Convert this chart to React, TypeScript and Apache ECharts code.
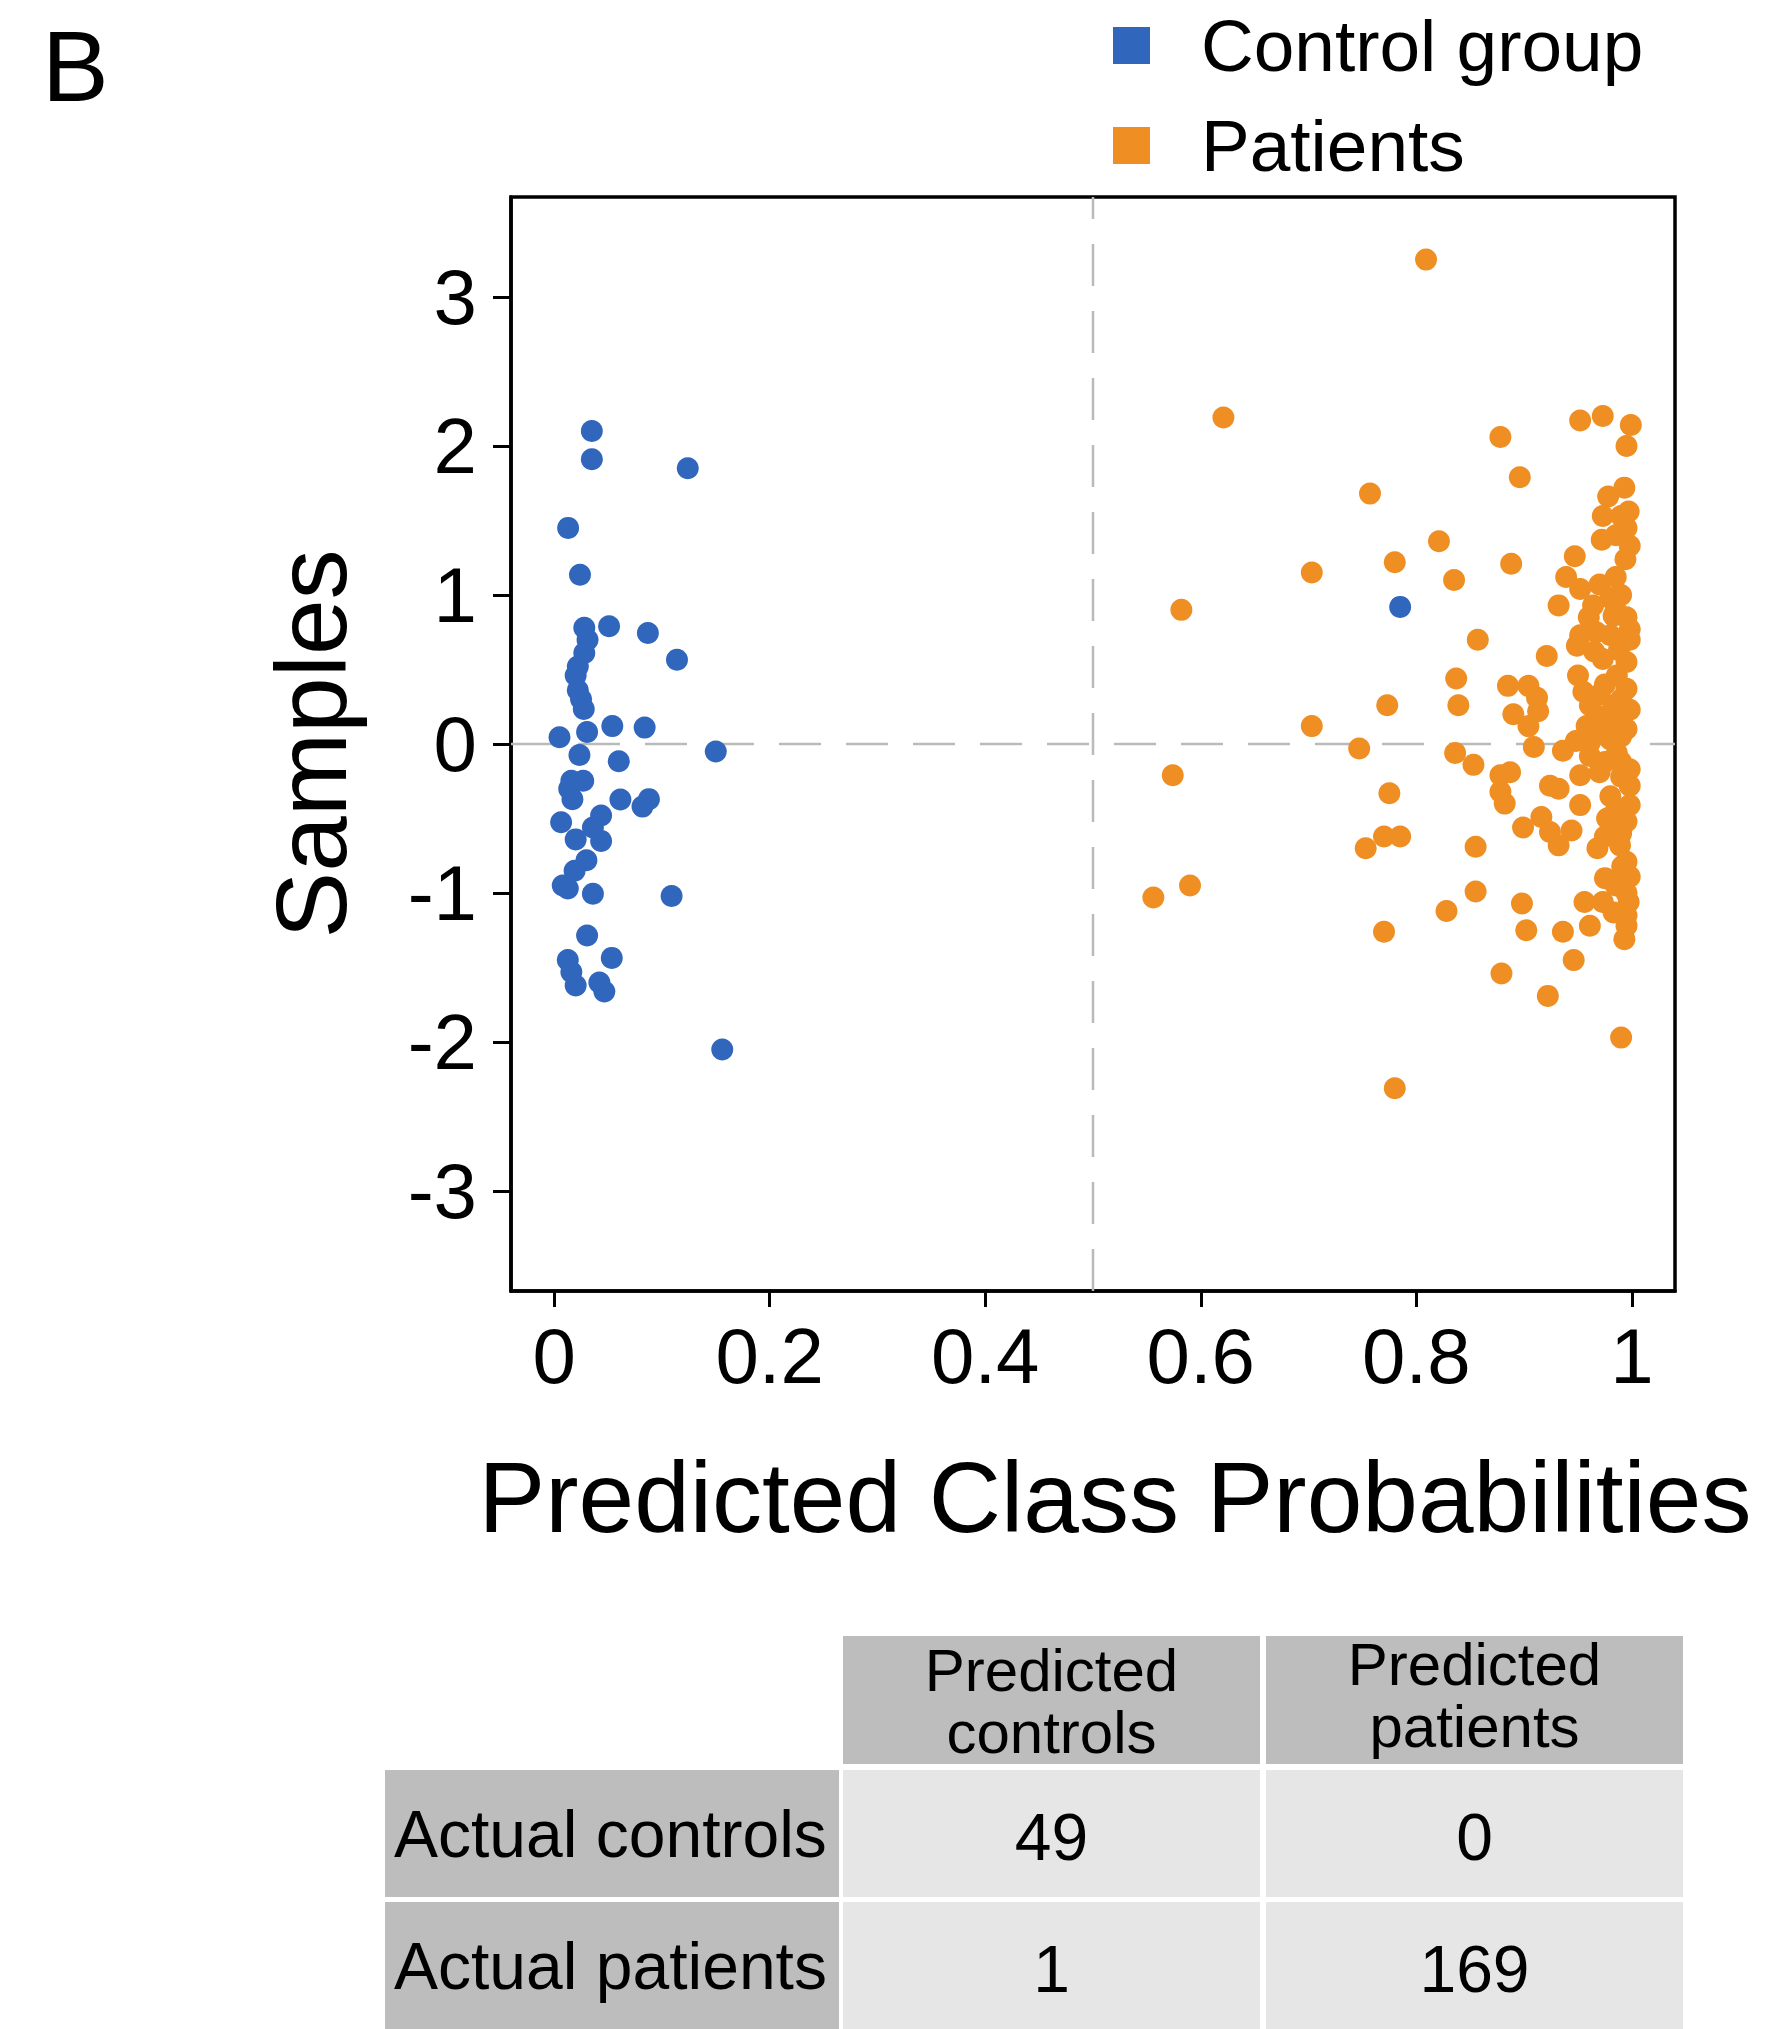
import { useEffect, useRef } from "react";
import * as echarts from "echarts";

const seriesNames = ["Control group", "Patients"];
const seriesColors = ["#3166bd", "#ef8e22"];

const controlPoints: [number, number][] = [
  [0.035, 2.1], [0.035, 1.91], [0.124, 1.85], [0.013, 1.45], [0.024, 1.135],
  [0.028, 0.78], [0.051, 0.79], [0.087, 0.745], [0.114, 0.565],
  [0.031, 0.7], [0.028, 0.61], [0.022, 0.52], [0.02, 0.46], [0.022, 0.36], [0.025, 0.3], [0.0275, 0.235],
  [0.005, 0.045], [0.0306, 0.08], [0.054, 0.12], [0.084, 0.11],
  [0.0235, -0.074], [0.06, -0.116], [0.15, -0.05],
  [0.016, -0.246], [0.027, -0.246], [0.014, -0.3],
  [0.017, -0.37], [0.0615, -0.373], [0.082, -0.42], [0.088, -0.37],
  [0.0065, -0.525], [0.0436, -0.48], [0.036, -0.56], [0.02, -0.64], [0.0436, -0.65],
  [0.03, -0.78], [0.019, -0.85], [0.008, -0.95], [0.0127, -0.97], [0.036, -1.005],
  [0.109, -1.02], [0.0306, -1.285], [0.0127, -1.45], [0.0535, -1.435], [0.016, -1.53],
  [0.02, -1.62], [0.042, -1.6], [0.0466, -1.66], [0.156, -2.05],
  [0.785, 0.92],
];

const patientPoints: [number, number][] = [
  [0.809, 3.25], [0.621, 2.19], [0.582, 0.9], [0.574, -0.21], [0.556, -1.03], [0.59, -0.95],
  [0.78, -2.31], [0.703, 1.15], [0.757, 1.68], [0.78, 1.22], [0.821, 1.36], [0.835, 1.1],
  [0.857, 0.7], [0.837, 0.44], [0.839, 0.26], [0.773, 0.26], [0.703, 0.12], [0.747, -0.03],
  [0.836, -0.06], [0.853, -0.14], [0.775, -0.33], [0.77, -0.62], [0.785, -0.62], [0.753, -0.7],
  [0.855, -0.69], [0.855, -0.99], [0.828, -1.12], [0.77, -1.26],
  [0.878, 2.06], [0.952, 2.17], [0.973, 2.2], [0.999, 2.14], [0.995, 2.0], [0.896, 1.79],
  [0.993, 1.72], [0.978, 1.66], [0.997, 1.56], [0.973, 1.53], [0.99, 1.53], [0.972, 1.37],
  [0.998, 1.33], [0.994, 1.24], [0.947, 1.26], [0.888, 1.21], [0.939, 1.12], [0.952, 1.04],
  [0.97, 1.07], [0.98, 0.98], [0.932, 0.93], [0.964, 0.93], [0.983, 0.86], [0.998, 0.77],
  [0.952, 0.73], [0.967, 0.75],
  [0.921, 0.59], [0.949, 0.66], [0.98, 0.73], [0.998, 0.7], [0.973, 0.57], [0.995, 0.55],
  [0.885, 0.39], [0.904, 0.39], [0.912, 0.31], [0.89, 0.2], [0.913, 0.22], [0.904, 0.12],
  [0.95, 0.46], [0.955, 0.35], [0.986, 0.46], [0.995, 0.37], [0.961, 0.26], [0.983, 0.26],
  [0.998, 0.23], [0.958, 0.12], [0.976, 0.15], [0.995, 0.1], [0.961, 0.01], [0.98, 0.03],
  [0.909, -0.02], [0.936, -0.045], [0.961, -0.08], [0.986, -0.06], [0.878, -0.21], [0.887, -0.19],
  [0.878, -0.32], [0.882, -0.4], [0.924, -0.28], [0.932, -0.3], [0.952, -0.21], [0.952, -0.41],
  [0.97, -0.19], [0.998, -0.17], [0.998, -0.28], [0.98, -0.35], [0.998, -0.41], [0.977, -0.5],
  [0.995, -0.52], [0.899, -0.56], [0.916, -0.49], [0.924, -0.59], [0.944, -0.58], [0.932, -0.68],
  [0.968, -0.7], [0.989, -0.68], [0.995, -0.79],
  [0.898, -1.07], [0.902, -1.25], [0.936, -1.26], [0.956, -1.06], [0.961, -1.22], [0.973, -1.06],
  [0.983, -1.13], [0.997, -1.06], [0.995, -1.22], [0.993, -1.31], [0.991, -0.82], [0.998, -0.89],
  [0.946, -1.45], [0.879, -1.54], [0.922, -1.69], [0.99, -1.97],
  [0.965, 0.62], [0.988, 0.63], [0.975, 0.4], [0.99, 0.3], [0.97, 0.33], [0.985, 0.19],
  [0.968, 0.19], [0.99, 0.05], [0.97, 0.07], [0.948, 0.02], [0.99, -0.12], [0.975, -0.12],
  [0.99, -0.22], [0.985, -0.45], [0.99, -0.6], [0.975, -0.62], [0.985, -0.95], [0.975, -0.9],
  [0.995, -1.0], [0.995, -1.15], [0.985, 0.9], [0.995, 0.85], [0.99, 1.0], [0.96, 0.85],
  [0.985, 1.12], [0.995, 1.45], [0.985, 1.4],
];

const xTicks = [0, 0.2, 0.4, 0.6, 0.8, 1];
const yTicks = [-3, -2, -1, 0, 1, 2, 3];
const xRange = [-0.04, 1.04];
const yRange = [-3.67, 3.67];
const thresholdX = 0.5;
const baselineY = 0;

const panelLabel = "B";
const xAxisTitle = "Predicted Class Probabilities";
const yAxisTitle = "Samples";

const tableColHeaders = [["Predicted", "controls"], ["Predicted", "patients"]];
const tableRowHeaders = ["Actual controls", "Actual patients"];
const tableCounts = [
  [49, 0],
  [1, 169],
];

const FONT = '"Liberation Sans", Arial, Helvetica, sans-serif';

export default function App() {
  const ref = useRef<HTMLDivElement>(null);

  useEffect(() => {
    if (!ref.current) return;
    const chart = echarts.init(ref.current, undefined, { renderer: "svg" });

    const colX = [843, 1266];
    const colW = 417;
    const rowLabelX = 385;
    const rowLabelW = 454;
    const headerY = 1636;
    const headerH = 128;
    const rowY = [1770, 1902];
    const rowH = 127;
    const darkCell = "#bdbdbd";
    const lightCell = "#e6e6e6";
    const headerLineOffsets = [[-30, 32], [-36, 26]];

    const graphics: any[] = [
      {
        type: "text",
        x: 42,
        y: 66,
        style: { text: panelLabel, fontSize: 100, fontFamily: FONT, fill: "#000", align: "left", verticalAlign: "middle" },
      },
    ];

    tableColHeaders.forEach((lines, c) => {
      graphics.push({
        type: "rect",
        shape: { x: colX[c], y: headerY, width: colW, height: headerH },
        style: { fill: darkCell },
      });
      lines.forEach((line, i) => {
        graphics.push({
          type: "text",
          x: colX[c] + colW / 2,
          y: headerY + headerH / 2 + headerLineOffsets[c][i],
          style: { text: line, fontSize: 60, lineHeight: 60, fontFamily: FONT, fill: "#000", align: "center", verticalAlign: "middle" },
        });
      });
    });
    tableRowHeaders.forEach((h, r) => {
      graphics.push({
        type: "rect",
        shape: { x: rowLabelX, y: rowY[r], width: rowLabelW, height: rowH },
        style: { fill: darkCell },
      });
      graphics.push({
        type: "text",
        x: rowLabelX + 9,
        y: rowY[r] + rowH / 2,
        style: { text: h, fontSize: 66, fontFamily: FONT, fill: "#000", align: "left", verticalAlign: "middle" },
      });
      tableCounts[r].forEach((v, c) => {
        graphics.push({
          type: "rect",
          shape: { x: colX[c], y: rowY[r], width: colW, height: rowH },
          style: { fill: lightCell },
        });
        graphics.push({
          type: "text",
          x: colX[c] + colW / 2,
          y: rowY[r] + rowH / 2 + 3,
          style: { text: String(v), fontSize: 66, fontFamily: FONT, fill: "#000", align: "center", verticalAlign: "middle" },
        });
      });
    });

    const dashStyle = { color: "#bababa", width: 2.5, type: [42, 25] as any };
    const tickStyle = { color: "#000", width: 3 };

    chart.setOption({
      animation: false,
      backgroundColor: "#ffffff",
      textStyle: { fontFamily: FONT },
      legend: {
        data: seriesNames.map((n) => ({ name: n, icon: "rect" })),
        orient: "vertical",
        left: 1108,
        top: 3,
        itemWidth: 37,
        itemHeight: 37,
        itemGap: 25,
        textStyle: { fontSize: 73, lineHeight: 75, color: "#000", fontFamily: FONT, padding: [0, 0, 0, 46] },
      },
      grid: {
        left: 511,
        top: 197,
        width: 1164,
        height: 1094,
        show: true,
        borderColor: "#000",
        borderWidth: 3.5,
        backgroundColor: "transparent",
      },
      xAxis: {
        type: "value",
        min: xRange[0],
        max: xRange[1],
        name: xAxisTitle,
        nameLocation: "middle",
        nameGap: 156,
        nameTextStyle: { fontSize: 100, color: "#000", fontFamily: FONT, padding: [0, 0, 0, 44] },
        splitLine: { show: false },
        axisLine: { show: true, onZero: false, lineStyle: { color: "#000", width: 3.5 } },
        axisTick: { show: true, inside: false, length: 16, lineStyle: tickStyle, customValues: xTicks },
        axisLabel: { show: true, fontSize: 78, color: "#000", margin: 26, fontFamily: FONT, customValues: xTicks },
      },
      yAxis: {
        type: "value",
        min: yRange[0],
        max: yRange[1],
        name: yAxisTitle,
        nameLocation: "middle",
        nameRotate: 90,
        nameGap: 150,
        nameTextStyle: { fontSize: 100, color: "#000", fontFamily: FONT },
        splitLine: { show: false },
        axisLine: { show: true, onZero: false, lineStyle: { color: "#000", width: 3.5 } },
        axisTick: { show: true, inside: false, length: 18, lineStyle: tickStyle, customValues: yTicks },
        axisLabel: { show: true, fontSize: 78, color: "#000", margin: 34, fontFamily: FONT, customValues: yTicks },
      },
      series: [
        {
          name: "threshold",
          type: "line",
          data: [[thresholdX, yRange[0]], [thresholdX, yRange[1]]],
          symbol: "none",
          lineStyle: dashStyle,
          silent: true,
          z: 1,
        },
        {
          name: "baseline",
          type: "line",
          data: [[xRange[0], baselineY], [xRange[1], baselineY]],
          symbol: "none",
          lineStyle: dashStyle,
          silent: true,
          z: 1,
        },
        {
          name: seriesNames[0],
          type: "scatter",
          data: controlPoints,
          symbol: "circle",
          symbolSize: 22,
          itemStyle: { color: seriesColors[0], opacity: 1 },
          z: 3,
        },
        {
          name: seriesNames[1],
          type: "scatter",
          data: patientPoints,
          symbol: "circle",
          symbolSize: 22,
          itemStyle: { color: seriesColors[1], opacity: 1 },
          z: 2,
        },
      ],
      graphic: graphics,
    });

    return () => chart.dispose();
  }, []);

  return (
    <div
      ref={ref}
      style={{ position: "absolute", left: 0, top: 0, width: 1779, height: 2029, background: "#fff" }}
    />
  );
}
